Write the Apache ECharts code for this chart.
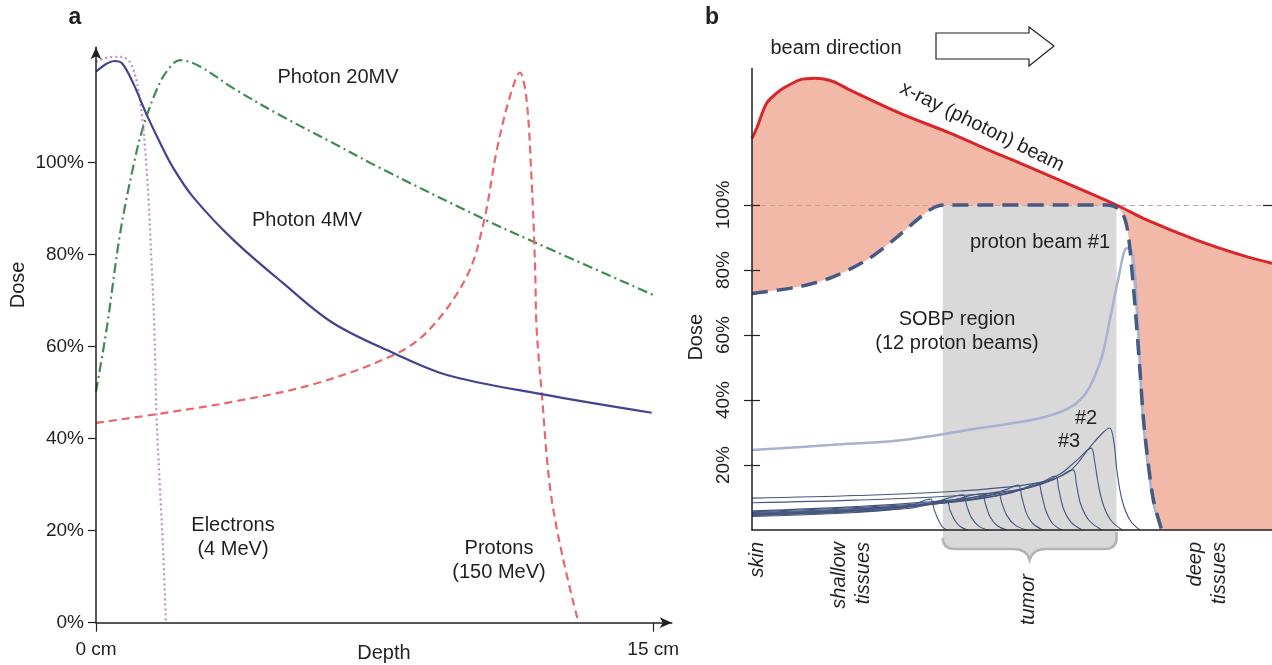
<!DOCTYPE html>
<html>
<head>
<meta charset="utf-8">
<script src="https://cdn.jsdelivr.net/npm/echarts@6/dist/echarts.min.js"></script>
<style>
html, body { margin: 0; padding: 0; background: #fff; }
#chart { width: 1272px; height: 665px; }
</style>
</head>
<body>
<div id="chart"></div>
<script>
// panel a: depth-dose curves, depth in cm, dose in %
var photon4MV = [[0,119.7],[0.5,122],[0.7,121.5],[1.0,117.2],[1.36,110.4],[1.72,104.3],[2.07,98.9],[2.61,92.5],[3.69,83.2],[5.03,73.8],[6.38,65.1],[8.0,58.6],[9.45,53.8],[11.95,49.7],[14.96,45.6]];
var photon20MV = [[0,50.2],[0.29,64],[0.65,84.6],[1.0,99],[1.27,107.7],[1.63,115.7],[1.9,119.7],[2.26,122.2],[2.8,120.8],[3.69,116.1],[5.03,109.9],[6.38,104.2],[7.64,98.8],[10.51,87.4],[11.76,82.8],[15,71.2]];
var electrons4MeV = [[0,121.8],[0.35,122.8],[0.69,122.9],[0.96,121.1],[1.18,113.6],[1.36,99],[1.5,77.3],[1.57,64],[1.63,44.7],[1.72,29.5],[1.81,15.1],[1.88,0.2]];
var protons150MeV = [[0,43.4],[1.63,45.3],[3.7,48],[5.94,52],[8.1,58.5],[9.0,63.9],[9.98,75.2],[10.43,86.7],[10.79,102.7],[11.14,114.2],[11.41,119.5],[11.59,113.6],[11.73,95.4],[11.82,77.3],[11.86,64],[12.0,49.8],[12.22,29.5],[12.54,15.1],[12.98,0.2]];
var doseTicksA = [0, 20, 40, 60, 80, 100];
var depthTicks = [0, 15];

// panel b: relative depth 0..100, dose in %
var xray = [[0,120.5],[0.9,123.6],[2.8,131.3],[4.75,134.4],[6,135.9],[9.2,138.5],[12.1,139],[15.6,138],[18.8,135.4],[28.5,128.2],[38.1,122.1],[47.7,115.4],[50.2,113.8],[59.8,107.2],[70.1,100],[75.9,95.4],[85.5,89.2],[95.1,84.1],[100,82.1]];
var sobp = [[0,72.8],[9.2,74.9],[15.6,77.9],[22.1,83.1],[27.2,89.2],[31,94.4],[34.2,98.5],[36.8,100],[68.2,100],[70.8,98.5],[72.1,93.3],[73,81],[74,62],[74.6,49.2],[75.3,33.8],[76.2,20.5],[77.2,9.2],[78.8,0]];
var beam1 = [[0,24.6],[15.6,26.2],[28.5,27.6],[43.8,31.4],[56.7,34.9],[63.1,40],[66.9,51.4],[68.8,64.6],[70.4,76.9],[72.1,86.7],[72.9,86.2],[73.5,81.5],[74.2,64.6],[75.2,33.8],[77.1,9.2],[78.7,0]];
var beam2 = [[0,9.8],[20,10.6],[40,12],[55,14.5],[61,18],[65,25.5],[67.5,30],[68.8,31.4],[69.6,27],[70.2,18],[71.2,9],[72.7,3],[74.6,0]];
var beam3 = [[0,8.4],[20,9.2],[40,10.6],[53,13],[59,17],[62.5,21.5],[65.2,25.2],[65.9,21],[66.5,15],[67.5,8],[69,3],[71.2,0]];
var beam4 = [[0,5.9],[20,7.2],[40,9.5],[52,12.5],[58,15.5],[61.7,18.5],[62.4,14],[63.2,8],[64.8,3],[67.3,0]];
var beam5 = [[0,5.6],[20,6.9],[40,9],[50,11.5],[55.5,14.5],[58.3,16.6],[59,12.5],[59.8,7],[61.3,2.5],[63.5,0]];
var beam6 = [[0,5.4],[20,6.6],[38,8.5],[47,10.5],[52.5,13],[55,14.5],[55.7,11],[56.5,6],[57.8,2],[59.6,0]];
var beam7 = [[0,5.2],[20,6.4],[36,8.2],[44,10],[49,12.5],[51.2,13.8],[51.9,10],[52.7,5.5],[54,2],[56,0]];
var beam8 = [[0,5.0],[20,6.2],[34,7.8],[41,9.5],[45.5,11.2],[47.3,11.7],[48,8.5],[49,4.5],[50.6,1.5],[52.9,0]];
var beam9 = [[0,4.8],[20,6.0],[32,7.5],[38,9],[42.5,10.8],[44.2,11.1],[44.9,8],[45.8,4],[47.2,1.3],[49,0]];
var beam10 = [[0,4.6],[20,5.8],[30,7],[35,8.5],[39,10.4],[40.6,10.8],[41.3,7.5],[42.2,3.8],[43.6,1.2],[45.4,0]];
var beam11 = [[0,4.4],[20,5.6],[30,6.6],[34,7.8],[36.3,8.8],[37.5,8.9],[38.1,6],[39,3],[40.1,1],[41.5,0]];
var beam12 = [[0,4.2],[20,5.4],[28,6.5],[31.5,8],[33.5,9.3],[34.4,9.5],[35,6.5],[35.8,3.2],[36.6,1],[37.5,0]];
var pristine = [beam2, beam3, beam4, beam5, beam6, beam7, beam8, beam9, beam10, beam11, beam12];
var tumorRange = [36.7, 70.1];
var doseTicksB = [20, 40, 60, 80, 100];
var tissueX = [1, 19.2, 53.1, 87.5];
var tissueNames = ['skin', 'shallow\ntissues', 'tumor', 'deep\ntissues'];

var FONT = '"Liberation Sans", Arial, sans-serif';
var INK = '#231f20';

var chart = echarts.init(document.getElementById('chart'));

function txt(x, y, s, extra) {
	var o = {
		type: 'text', x: x, y: y, z: 100,
		style: { text: s, fill: INK, font: '20px ' + FONT, textAlign: 'center', textVerticalAlign: 'middle', lineHeight: 24 }
	};
	if (extra) {
		for (var k in extra) o[k] = extra[k];
	}
	return o;
}

var series = [
	// panel a
	{ type: 'line', xAxisIndex: 0, yAxisIndex: 0, data: photon20MV, smooth: 0.35, symbol: 'none',
	  lineStyle: { color: '#3f8c50', width: 2.2, type: [10, 4, 2, 4] } },
	{ type: 'line', xAxisIndex: 0, yAxisIndex: 0, data: protons150MeV, smooth: 0.35, symbol: 'none',
	  lineStyle: { color: '#e8676b', width: 2.2, type: [8, 5] } },
	{ type: 'line', xAxisIndex: 0, yAxisIndex: 0, data: electrons4MeV, smooth: 0.35, symbol: 'none',
	  lineStyle: { color: '#c48ccc', width: 2.2, type: [2, 3] } },
	{ type: 'line', xAxisIndex: 0, yAxisIndex: 0, data: photon4MV, smooth: 0.35, symbol: 'none',
	  lineStyle: { color: '#434390', width: 2.2 } },

	// panel b: pink area under the x-ray curve, then white under SOBP
	{ type: 'line', xAxisIndex: 1, yAxisIndex: 1, data: xray, smooth: 0.3, symbol: 'none', z: 1,
	  lineStyle: { width: 0 }, areaStyle: { color: '#f2b9a9', opacity: 1 } },
	{ type: 'line', xAxisIndex: 1, yAxisIndex: 1, data: sobp, smooth: 0.3, symbol: 'none', z: 2,
	  lineStyle: { width: 0 }, areaStyle: { color: '#ffffff', opacity: 1 } },
	// tumor region box with brace
	{ type: 'custom', xAxisIndex: 1, yAxisIndex: 1, z: 3, data: [tumorRange],
	  renderItem: function (params, api) {
		var tl = api.coord([api.value(0), 100]);
		var br = api.coord([api.value(1), 0]);
		var xL = tl[0], yT = tl[1], xR = br[0], yA = br[1];
		var xm = (xL + xR) / 2;
		var bottom = 'L' + xR + ',' + (yA + 8) +
			' Q' + xR + ',' + (yA + 19) + ' ' + (xR - 12) + ',' + (yA + 19) +
			' L' + (xm + 16) + ',' + (yA + 19) +
			' Q' + (xm + 3) + ',' + (yA + 19) + ' ' + xm + ',' + (yA + 30) +
			' Q' + (xm - 3) + ',' + (yA + 19) + ' ' + (xm - 16) + ',' + (yA + 19) +
			' L' + (xL + 12) + ',' + (yA + 19) +
			' Q' + xL + ',' + (yA + 19) + ' ' + xL + ',' + (yA + 8);
		return {
			type: 'group',
			children: [
				{ type: 'path', shape: { pathData: 'M' + xL + ',' + yT + ' L' + xR + ',' + yT + ' ' + bottom + ' Z' },
				  style: { fill: '#d9d9d9' } },
				{ type: 'path', shape: { pathData: 'M' + xR + ',' + (yA + 2) + ' ' + bottom },
				  style: { fill: 'none', stroke: '#b3b3b3', lineWidth: 2.5 } }
			]
		};
	  } },
	{ type: 'line', xAxisIndex: 1, yAxisIndex: 1, data: [], z: 4,
	  markLine: { silent: true, symbol: 'none', label: { show: false },
	    lineStyle: { color: '#c4a59c', width: 1, type: [5, 4] }, data: [{ yAxis: 100 }] } },
	{ type: 'line', xAxisIndex: 1, yAxisIndex: 1, data: xray, smooth: 0.3, symbol: 'none', z: 5,
	  lineStyle: { color: '#d9262b', width: 3 } },
	{ type: 'line', xAxisIndex: 1, yAxisIndex: 1, data: beam1, smooth: 0.35, symbol: 'none', z: 5,
	  lineStyle: { color: '#a8b1cf', width: 2.5 } }
];

for (var i = 0; i < pristine.length; i++) {
	series.push({ type: 'line', xAxisIndex: 1, yAxisIndex: 1, data: pristine[i], smooth: 0.35, symbol: 'none', z: 5,
		lineStyle: { color: '#44557f', width: 1.1 } });
}
series.push({ type: 'line', xAxisIndex: 1, yAxisIndex: 1, data: sobp, smooth: 0.3, symbol: 'none', z: 6,
	lineStyle: { color: '#475a85', width: 3.5, type: [16, 9] } });

var option = {
	animation: false,
	backgroundColor: '#fff',
	textStyle: { fontFamily: FONT },
	grid: [
		{ left: 96, top: 47.2, width: 575.8, height: 575.5, outerBoundsMode: 'none' },
		{ left: 752, top: 68.5, width: 520, height: 461.5, outerBoundsMode: 'none' }
	],
	xAxis: [
		{ gridIndex: 0, type: 'value', min: 0, max: 15.5, z: 10,
		  name: 'Depth', nameLocation: 'middle', nameGap: 21, nameMoveOverlap: false,
		  nameTextStyle: { color: INK, fontSize: 20, fontFamily: FONT },
		  splitLine: { show: false },
		  axisLine: { symbol: ['none', 'arrow'], symbolSize: [8, 12], lineStyle: { color: INK, width: 1.5 } },
		  axisTick: { customValues: depthTicks, length: 9, lineStyle: { color: INK, width: 1.2 } },
		  axisLabel: { customValues: depthTicks, margin: 18, color: INK, fontSize: 19, fontFamily: FONT,
		    formatter: function (v) { return v + ' cm'; } } },
		{ gridIndex: 1, type: 'value', min: 0, max: 100, z: 10,
		  splitLine: { show: false },
		  axisLine: { lineStyle: { color: INK, width: 1.5 } },
		  axisTick: { show: false },
		  axisLabel: { customValues: tissueX, rotate: 90, margin: 12, color: INK, fontSize: 20, fontFamily: FONT,
		    fontStyle: 'italic', lineHeight: 24,
		    formatter: function (v) {
			var k = tissueX.indexOf(v);
			if (k < 0) return '';
			if (tissueNames[k] == 'tumor') return '{t|tumor}';
			return tissueNames[k];
		    },
		    rich: { t: { padding: [0, 32, 0, 0], fontStyle: 'italic', fontSize: 20, color: INK, fontFamily: FONT } } } }
	],
	yAxis: [
		{ gridIndex: 0, type: 'value', min: 0, max: 125, z: 10,
		  name: 'Dose', nameLocation: 'middle', nameGap: 68, nameMoveOverlap: false,
		  nameTextStyle: { color: INK, fontSize: 20, fontFamily: FONT, padding: [0, 0, 0, 100] },
		  splitLine: { show: false },
		  axisLine: { symbol: ['none', 'arrow'], symbolSize: [8, 12], lineStyle: { color: INK, width: 1.5 } },
		  axisTick: { customValues: doseTicksA, length: 8, lineStyle: { color: INK, width: 1.2 } },
		  axisLabel: { customValues: doseTicksA, margin: 12, color: INK, fontSize: 19, fontFamily: FONT, formatter: '{value}%' } },
		{ gridIndex: 1, type: 'value', min: 0, max: 142, z: 10,
		  name: 'Dose', nameLocation: 'middle', nameGap: 46, nameMoveOverlap: false,
		  nameTextStyle: { color: INK, fontSize: 20, fontFamily: FONT, padding: [0, 76, 0, 0] },
		  splitLine: { show: false },
		  axisLine: { lineStyle: { color: INK, width: 1.5 } },
		  axisTick: { customValues: doseTicksB, length: 8, lineStyle: { color: INK, width: 1.2 } },
		  axisLabel: { customValues: doseTicksB, rotate: 90, margin: 19, color: INK, fontSize: 19, fontFamily: FONT, formatter: '{value}%' } },
		// inner half of the crossing ticks
		{ gridIndex: 1, type: 'value', min: 0, max: 142, z: 10, position: 'left',
		  splitLine: { show: false }, axisLine: { show: false }, axisLabel: { show: false },
		  axisTick: { customValues: doseTicksB, inside: true, length: 8, lineStyle: { color: INK, width: 1.2 } } },
		// small tick on the right end of the 100% line
		{ gridIndex: 1, type: 'value', min: 0, max: 142, z: 10, position: 'right',
		  splitLine: { show: false }, axisLine: { show: false }, axisLabel: { show: false },
		  axisTick: { customValues: [100], inside: true, length: 9, lineStyle: { color: INK, width: 1.2 } } }
	],
	graphic: [
		txt(75, 18, 'a', { style: { text: 'a', fill: INK, font: 'bold 23px ' + FONT, textAlign: 'center', textVerticalAlign: 'middle' } }),
		txt(338, 77, 'Photon 20MV'),
		txt(307, 220, 'Photon 4MV'),
		txt(233, 537, 'Electrons\n(4 MeV)'),
		txt(499, 560, 'Protons\n(150 MeV)'),
		txt(712, 18, 'b', { style: { text: 'b', fill: INK, font: 'bold 23px ' + FONT, textAlign: 'center', textVerticalAlign: 'middle' } }),
		txt(836, 48, 'beam direction'),
		{ type: 'polygon', z: 100,
		  shape: { points: [[936, 33], [1029, 33], [1029, 27], [1054, 46], [1029, 66], [1029, 59], [936, 59]] },
		  style: { fill: '#fff', stroke: INK, lineWidth: 1.2 } },
		txt(982, 127, 'x-ray (photon) beam', { rotation: -0.456 }),
		txt(1040, 242, 'proton beam #1'),
		txt(957, 331, 'SOBP region\n(12 proton beams)'),
		txt(1086, 418, '#2'),
		txt(1069, 441, '#3')
	],
	series: series
};

chart.setOption(option);
</script>
</body>
</html>
